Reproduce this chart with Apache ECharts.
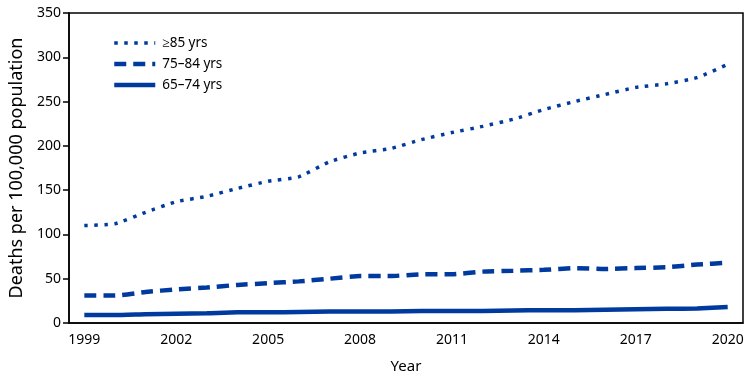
<!DOCTYPE html>
<html>
<head>
<meta charset="utf-8">
<script src="https://cdn.jsdelivr.net/npm/echarts@6/dist/echarts.min.js"></script>
<style>
html,body{margin:0;padding:0;background:#fff;}
#c{width:750px;height:381px;}
</style>
</head>
<body>
<div id="c"></div>
<script>
const years = ['1999','2000','2001','2002','2003','2004','2005','2006','2007','2008','2009','2010','2011','2012','2013','2014','2015','2016','2017','2018','2019','2020'];
const age85plus = [110,112,125,137,143,152,160,165,182,192,197,207,215,222,230,241,250,258,266,270,277,292];
const age75to84 = [31,31,35,38,40,43,45,47,50,53,53,55,55,58,59,60,62,61,62,63,66,68];
const age65to74 = [9,9,10,10.5,11,12,12,12.5,13,13,13,13.5,13.5,13.5,14,14.5,14.5,15,15.5,16,16.5,18];
const seriesNames = ['≥85 yrs','75–84 yrs','65–74 yrs'];

const color = '#003a9e';
const font = 'Noto Sans';
const chart = echarts.init(document.getElementById('c'), null, {renderer:'canvas'});
const styles = [
  {width:3.5, type:[3.5,6.5]},
  {width:4.5, type:[12,7]},
  {width:4.5, type:'solid'}
];
function mk(name, data, st){
  return {
    name, type:'line', data, symbol:'none', smooth:0.15,
    lineStyle:{color, width:st.width, type:st.type, cap:'butt'},
    itemStyle:{color}
  };
}
chart.setOption({
  animation:false,
  textStyle:{fontFamily:font},
  grid:{left:66,right:7,top:13,bottom:58,show:true,borderColor:'#000',borderWidth:1.5,backgroundColor:'transparent'},
  legend:{
    left:107, top:31, orient:'vertical', itemWidth:41, itemHeight:10, itemGap:7,
    textStyle:{fontFamily:font,fontSize:13.5,color:'#000',padding:[0,0,0,2]},
    itemStyle:{opacity:0},
    data:seriesNames.map((n,i)=>({name:n, lineStyle:{color, width:styles[i].width, type:styles[i].type, cap:'butt'}}))
  },
  xAxis:{
    type:'category', data:years, boundaryGap:true,
    name:'Year', nameLocation:'middle', nameGap:36,
    nameTextStyle:{fontFamily:font,fontSize:15,color:'#000'},
    axisLine:{lineStyle:{color:'#000',width:1.5}},
    axisTick:{alignWithLabel:true, interval:0, length:6, lineStyle:{color:'#000',width:1.5}},
    axisLabel:{interval:2, color:'#000', fontFamily:font, fontSize:14, margin:10}
  },
  yAxis:{
    type:'value', min:0, max:350, interval:50,
    name:'Deaths per 100,000 population', nameLocation:'middle', nameGap:43,
    nameTextStyle:{fontFamily:font,fontSize:18,color:'#000'},
    axisLine:{show:true,lineStyle:{color:'#000',width:1.5}},
    axisTick:{show:true,length:6,lineStyle:{color:'#000',width:1.5}},
    axisLabel:{color:'#000',fontFamily:font,fontSize:14,margin:8},
    splitLine:{show:false}
  },
  series:[
    mk(seriesNames[0], age85plus, styles[0]),
    mk(seriesNames[1], age75to84, styles[1]),
    mk(seriesNames[2], age65to74, styles[2])
  ]
});
</script>
</body>
</html>
